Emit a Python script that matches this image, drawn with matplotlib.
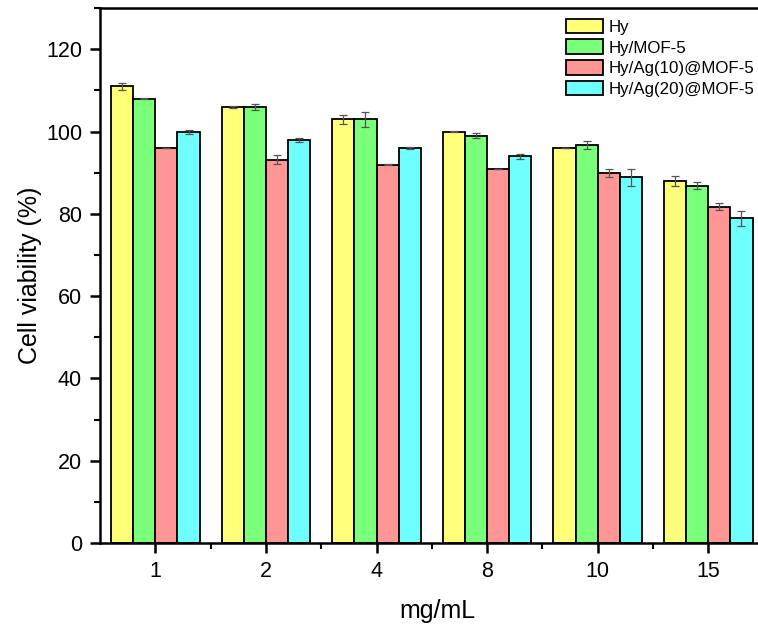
import numpy as np
import matplotlib.pyplot as plt
from matplotlib.ticker import MultipleLocator

plt.rcParams['font.family'] = ['Liberation Sans', 'DejaVu Sans']

doses = ['1', '2', '4', '8', '10', '15']
labels = ['Hy', 'Hy/MOF-5', 'Hy/Ag(10)@MOF-5', 'Hy/Ag(20)@MOF-5']

hy = [111, 106, 103, 100, 96, 88]
hy_mof = [108, 106, 103, 99, 96.8, 86.8]
hy_ag10 = [96, 93.2, 92, 90.9, 89.9, 81.8]
hy_ag20 = [100, 98, 96, 94, 88.9, 78.9]

hy_err = [0.8, 0.2, 1.1, 0.2, 0.1, 1.1]
hy_mof_err = [0.1, 0.8, 1.8, 0.65, 1.0, 0.85]
hy_ag10_err = [0.1, 1.1, 0.2, 0.1, 1.0, 0.9]
hy_ag20_err = [0.5, 0.5, 0.2, 0.65, 2.0, 1.9]

colors = ['#FFFF7A', '#7AFF7A', '#FF9696', '#70FFFF']

series = [hy, hy_mof, hy_ag10, hy_ag20]
errors = [hy_err, hy_mof_err, hy_ag10_err, hy_ag20_err]

fig = plt.figure(figsize=(7.58, 6.3), dpi=100)
# axes run past the right edge of the figure
ax = fig.add_axes([0.132, 0.138, 0.890, 0.849])

x = np.arange(len(doses))
w = 0.2
for i, (vals, err) in enumerate(zip(series, errors)):
    pos = x + (i - 1.5) * w
    ax.bar(pos, vals, width=w, color=colors[i], edgecolor='black',
           linewidth=1.3, label=labels[i], zorder=2)
    ax.errorbar(pos, vals, yerr=err, fmt='none', ecolor='#555555',
                elinewidth=0.9, capsize=2.7, capthick=0.9, zorder=3)

ax.set_xlim(-0.5, 5.6)
ax.set_ylim(0, 130)
ax.set_xticks(x)
ax.set_xticklabels(doses)
ax.set_xticks(x[:-1] + 0.5, minor=True)
ax.yaxis.set_major_locator(MultipleLocator(20))
ax.yaxis.set_minor_locator(MultipleLocator(10))

for s in ['left', 'top', 'bottom', 'right']:
    ax.spines[s].set_linewidth(1.8)

ax.tick_params(axis='both', which='major', direction='out', length=7,
               width=1.8, labelsize=15.5, pad=6)
ax.tick_params(axis='both', which='minor', direction='out', length=4,
               width=1.5)
ax.tick_params(axis='x', which='major', pad=6)

ax.set_xlabel('mg/mL', fontsize=18, labelpad=12)
ax.set_ylabel('Cell viability (%)', fontsize=18, labelpad=3)

ax.legend(loc='upper left', bbox_to_anchor=(0.68, 0.993), frameon=False,
          fontsize=12.2, handlelength=2.2, handleheight=0.95,
          handletextpad=0.35, labelspacing=0.27, borderaxespad=0)

fig.savefig('out.png', dpi=100)
